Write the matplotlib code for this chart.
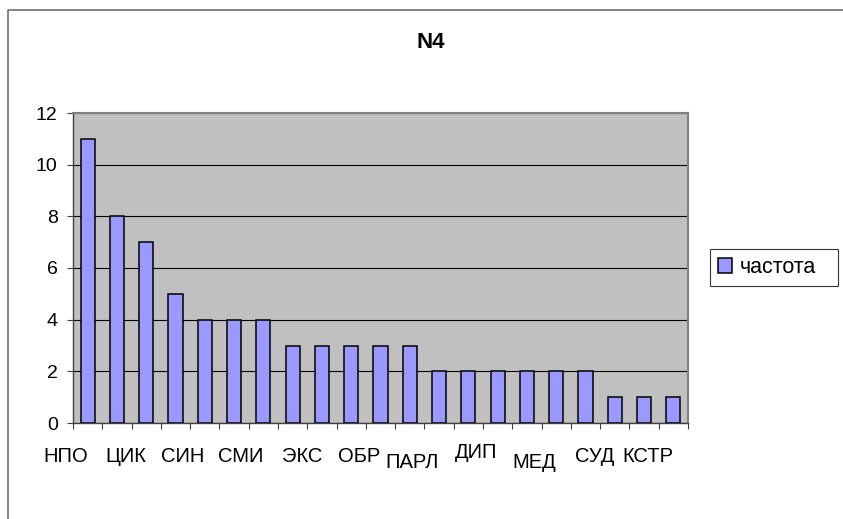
import matplotlib
matplotlib.use("Agg")
import matplotlib.pyplot as plt
from matplotlib.lines import Line2D
import matplotlib.transforms as mtransforms
import numpy as np

plt.rcParams['font.family'] = ['Liberation Sans', 'DejaVu Sans']

# --- DATA ---
values = [11, 8, 7, 5, 4, 4, 4, 3, 3, 3, 3, 3, 2, 2, 2, 2, 2, 2, 1, 1, 1]
shown_labels = ['НПО', 'ЦИК', 'СИН', 'СМИ', 'ЭКС', 'ОБР', 'ПАРЛ', 'ДИП', 'МЕД', 'СУД', 'КСТР']
label_shift = [0, 0, 0, 0, 0, 0, -6, 3, -6, 0, 0]   # Excel-style staggering (px)
series_name = 'частота'
title = 'N4'

x = np.arange(len(values))

fig = plt.figure(figsize=(8.43, 5.19), dpi=100)
ax = fig.add_axes([73 / 843, 1 - 423 / 519, 615 / 843, 310 / 519])

ax.set_facecolor('#C0C0C0')
ax.set_axisbelow(True)
ax.yaxis.grid(True, color='black', linewidth=0.8)

bars = ax.bar(x, values, width=0.48, color='#9999FF', edgecolor='black',
              linewidth=1.1, label=series_name, zorder=3)

ax.set_xlim(-0.5, len(values) - 0.5)
ax.set_ylim(0, 12)
ax.set_yticks(range(0, 13, 2))
ax.tick_params(axis='y', labelsize=14, length=4, width=0.8, pad=7, color='#404040')

# x ticks at category boundaries, labels every other category
ax.set_xticks(np.arange(-0.5, len(values), 1.0))
ax.set_xticklabels([])
ax.tick_params(axis='x', length=4.5, width=0.8, color='#404040')

trans = mtransforms.blended_transform_factory(ax.transData, ax.transAxes)
for k, lab in enumerate(shown_labels):
    off = mtransforms.ScaledTranslation(0, label_shift[k] / 100, fig.dpi_scale_trans)
    ax.text(x[2 * k], -33 / 310, lab, transform=trans + off, ha='right', va='center',
            fontsize=14.5, clip_on=False)

for side in ['left', 'bottom']:
    ax.spines[side].set_color('#404040')
    ax.spines[side].set_linewidth(1.0)
for side in ['top', 'right']:
    ax.spines[side].set_color('#808080')
    ax.spines[side].set_linewidth(1.5)

fig.text(431 / 843, 1 - 42 / 519, title, ha='center', va='center',
         fontsize=16, fontweight='bold')

leg = fig.legend(handles=[bars], labels=[series_name], loc='center left',
                 bbox_to_anchor=(710 / 843, 1 - 286 / 519, 128 / 843, 37 / 519),
                 mode='expand', fontsize=15.5,
                 fancybox=False, frameon=True, edgecolor='black',
                 handlelength=0.65, handleheight=0.65, handletextpad=0.4,
                 borderpad=0.35, borderaxespad=0)
leg.get_frame().set_linewidth(0.8)

# chart area border (only left and top visible)
fig.add_artist(Line2D([8 / 843, 8 / 843, 1.0], [0.0, 1 - 10 / 519, 1 - 10 / 519],
                      transform=fig.transFigure, color='#707070', linewidth=1.2))

fig.savefig('out.png', dpi=100)
